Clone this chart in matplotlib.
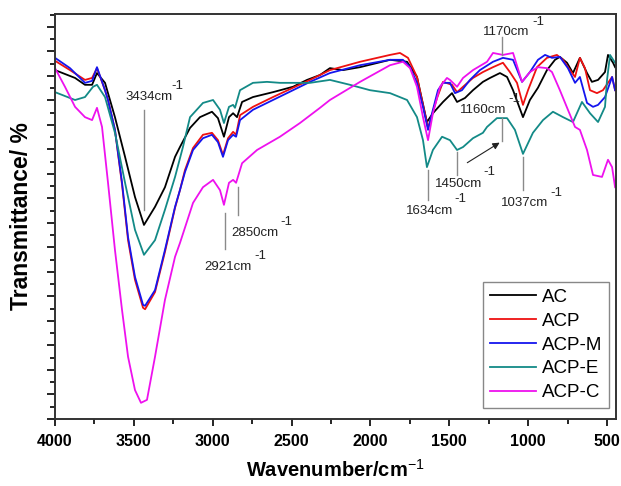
import numpy as np
import matplotlib
matplotlib.use("Agg")
import matplotlib.pyplot as plt
from matplotlib.ticker import MultipleLocator

plt.rcParams['font.family'] = ['Liberation Sans', 'DejaVu Sans']
plt.rcParams['mathtext.fontset'] = 'custom'
plt.rcParams['mathtext.rm'] = 'Liberation Sans'
plt.rcParams['mathtext.bf'] = 'Liberation Sans:bold'

# spectra (wavenumber in cm-1, transmittance in arbitrary %)
ac_wn = [4000, 3873, 3810, 3765, 3734, 3683, 3620, 3556, 3493, 3436, 3366, 3303, 3239, 3208, 3144,
         3081, 3005, 2967, 2929, 2897, 2871, 2846, 2814, 2745, 2618, 2491, 2402, 2320, 2257, 2174,
         2066, 1876, 1768, 1705, 1642, 1604, 1540, 1483, 1451, 1401, 1350, 1287, 1242, 1179, 1134,
         1096, 1033, 989, 938, 881, 830, 799, 754, 716, 672, 627, 596, 557, 513, 494, 462, 449]
ac_t = [71.2, 69.6, 68.2, 68.2, 70.6, 68.6, 61.6, 53.5, 45.3, 39.6, 43.3, 47.3, 53.5, 55.5, 59.4,
        61.6, 62.7, 61.4, 57.6, 61.6, 62.4, 61.6, 64.7, 65.7, 66.7, 67.8, 69.2, 70.2, 71.6, 71.2,
        71.8, 73.3, 72.9, 69.8, 60.6, 62.4, 64.7, 66.5, 64.7, 65.5, 67.1, 68.8, 69.6, 70.6, 69.8,
        67.1, 61.6, 65.1, 67.6, 71.2, 73.3, 73.9, 72.7, 70.6, 73.7, 70.6, 68.8, 69.2, 70.8, 74.3, 72.7, 71.8]

acp_wn = [4000, 3905, 3810, 3765, 3734, 3683, 3664, 3620, 3575, 3537, 3493, 3442, 3429, 3366, 3303,
          3239, 3208, 3176, 3125, 3062, 3005, 2967, 2935, 2903, 2871, 2852, 2827, 2745, 2618, 2491,
          2383, 2257, 2066, 1876, 1813, 1762, 1705, 1667, 1635, 1578, 1540, 1483, 1451, 1413, 1350,
          1287, 1223, 1160, 1116, 1071, 1033, 1001, 944, 881, 818, 779, 735, 703, 672, 640, 608,
          564, 526, 494, 468, 449]
acp_t = [73.1, 71.2, 69.2, 69.6, 71.6, 67.1, 65.1, 59.0, 47.8, 36.5, 28.4, 22.7, 22.4, 25.9, 34.1,
         43.1, 46.7, 50.8, 55.3, 58.0, 58.4, 56.9, 53.9, 57.3, 58.6, 58.0, 62.0, 63.7, 65.7, 67.6,
         69.2, 71.2, 72.9, 74.3, 74.7, 73.7, 69.8, 64.1, 59.4, 65.5, 68.8, 68.2, 66.7, 67.8, 69.6,
         70.8, 71.8, 72.7, 70.8, 68.6, 64.1, 67.1, 71.8, 73.7, 74.3, 73.3, 71.2, 69.8, 73.7, 71.6,
         67.1, 66.5, 67.1, 68.6, 69.8, 67.1]

acpm_wn = [4000, 3905, 3810, 3765, 3734, 3683, 3664, 3620, 3575, 3537, 3493, 3442, 3429, 3366, 3303,
           3239, 3208, 3176, 3125, 3062, 3005, 2967, 2935, 2903, 2871, 2852, 2827, 2745, 2618, 2491,
           2383, 2257, 2066, 1876, 1794, 1749, 1705, 1667, 1635, 1604, 1572, 1540, 1496, 1464, 1420,
           1369, 1306, 1223, 1160, 1096, 1039, 989, 938, 893, 849, 799, 748, 703, 672, 627, 589,
           557, 513, 468, 449]
acpm_t = [73.7, 71.6, 68.6, 69.0, 71.8, 67.1, 65.1, 59.0, 48.2, 37.1, 29.0, 23.3, 23.1, 26.3, 34.5,
          43.3, 46.7, 50.4, 54.9, 57.3, 58.0, 56.5, 53.5, 56.9, 58.0, 57.6, 61.0, 63.1, 65.1, 67.1,
          68.8, 70.6, 72.2, 73.3, 73.3, 71.8, 68.6, 63.7, 59.0, 63.1, 67.1, 68.6, 68.6, 66.5, 67.1,
          69.2, 71.2, 72.9, 73.7, 73.3, 68.8, 70.8, 73.3, 74.3, 73.7, 73.9, 71.6, 68.6, 69.8, 64.5,
          63.7, 64.1, 65.7, 69.8, 67.1]

acpe_wn = [4000, 3873, 3810, 3759, 3734, 3683, 3620, 3556, 3493, 3436, 3366, 3303, 3239, 3189, 3144,
           3062, 2998, 2954, 2929, 2897, 2871, 2859, 2827, 2745, 2656, 2574, 2466, 2383, 2257, 2130,
           2003, 1876, 1768, 1705, 1667, 1642, 1604, 1546, 1496, 1451, 1413, 1350, 1287, 1261, 1198,
           1134, 1084, 1033, 970, 906, 843, 779, 716, 659, 608, 557, 513, 500, 481, 449]
acpe_t = [66.7, 65.1, 65.7, 67.8, 68.2, 65.7, 58.4, 48.2, 38.6, 33.5, 36.5, 42.7, 49.4, 55.5, 61.6,
          64.5, 65.1, 63.1, 60.4, 63.7, 64.1, 63.5, 67.1, 68.6, 68.8, 68.6, 68.6, 68.6, 69.2, 68.2,
          67.1, 66.5, 65.1, 61.6, 56.9, 51.4, 54.9, 57.6, 56.9, 54.9, 55.5, 57.3, 58.4, 59.6, 61.4,
          61.4, 59.0, 54.1, 58.4, 61.0, 62.7, 61.6, 60.6, 64.7, 62.4, 60.6, 63.7, 69.2, 74.3, 72.7]

acpc_wn = [4000, 3937, 3873, 3810, 3765, 3734, 3702, 3664, 3620, 3575, 3537, 3493, 3455, 3417, 3366,
           3303, 3239, 3208, 3125, 3062, 2998, 2954, 2929, 2897, 2871, 2852, 2814, 2719, 2574, 2447,
           2320, 2257, 2066, 1876, 1794, 1749, 1705, 1667, 1635, 1604, 1559, 1515, 1496, 1451, 1413,
           1350, 1261, 1223, 1160, 1096, 1039, 989, 938, 881, 849, 799, 748, 703, 672, 627, 589,
           532, 494, 468, 449]
acpc_t = [71.6, 67.8, 63.7, 61.6, 61.0, 63.5, 59.6, 48.2, 34.5, 22.2, 12.7, 5.9, 3.3, 3.9, 12.7,
          24.3, 33.1, 35.9, 44.1, 47.3, 48.8, 46.7, 43.7, 48.2, 48.8, 48.2, 52.2, 54.9, 57.6, 60.4,
          63.5, 65.1, 68.8, 72.2, 72.9, 71.6, 67.8, 61.6, 56.9, 62.4, 67.8, 69.6, 69.2, 67.8, 69.6,
          71.2, 72.9, 74.7, 74.3, 74.7, 68.8, 70.8, 71.8, 71.6, 70.8, 67.1, 63.1, 59.6, 59.0, 54.9,
          49.8, 49.4, 52.9, 51.4, 47.3]

names = ['AC', 'ACP', 'ACP-M', 'ACP-E', 'ACP-C']
colors = ['#000000', '#ee1111', '#1515ee', '#138a87', '#ee11ee']
series = [(ac_wn, ac_t), (acp_wn, acp_t), (acpm_wn, acpm_t), (acpe_wn, acpe_t), (acpc_wn, acpc_t)]

xticks = [4000, 3500, 3000, 2500, 2000, 1500, 1000, 500]

# peak marks: (label, wavenumber, line top, line bottom, text x, text y, sup x, sup y)
peaks = [
    ('3434cm', 3434, 63.1, 42.7, 3556, 65.7, 3262, 67.9),
    ('2921cm', 2921, 42.0, 34.7, 3055, 31.0, 2737, 33.3),
    ('2850cm', 2840, 47.3, 41.6, 2884, 38.0, 2570, 40.2),
    ('1634cm', 1634, 50.8, 44.7, 1775, 42.4, 1466, 44.9),
    ('1450cm', 1450, 54.5, 49.8, 1591, 48.0, 1282, 50.4),
    ('1160cm', 1166, 61.4, 56.7, 1432, 63.1, 1124, 65.3),
    ('1170cm', 1166, 78.0, 74.3, 1287, 79.0, 973, 81.0),
    ('1037cm', 1035, 53.5, 46.7, 1172, 44.1, 858, 46.1),
]

fig = plt.figure(figsize=(6.21, 4.86), dpi=100)
ax = fig.add_axes([0.0886, 0.1379, 0.9034, 0.8333])

for (wn, t), name, c in zip(series, names, colors):
    ax.plot(wn, t, color=c, lw=1.3, label=name)

for lab, wn, y0, y1, tx, ty, sx, sy in peaks:
    ax.plot([wn, wn], [y0, y1], color='#8a8a8a', lw=1.0)
    ax.text(tx, ty, lab, fontsize=9.5, color='#222222', ha='left', va='center')
    ax.text(sx, sy, '-1', fontsize=9.5, color='#222222', ha='left', va='center')

ax.annotate('', xy=(1166, 56.7), xytext=(1401, 52.0),
            arrowprops=dict(arrowstyle='-|>', color='#222222', lw=0.8, mutation_scale=10))

ax.set_xlim(4000, 443)
ax.set_ylim(0, 82.65)
ax.set_xticks(xticks)
ax.set_xticklabels([str(v) for v in xticks], fontsize=11.5, fontweight='bold')
ax.xaxis.set_minor_locator(MultipleLocator(250))
ax.yaxis.set_major_locator(MultipleLocator(5))
ax.yaxis.set_minor_locator(MultipleLocator(2.5))
ax.tick_params(axis='y', which='both', labelleft=False)
ax.tick_params(which='major', direction='out', length=6, width=1.2)
ax.tick_params(which='minor', direction='out', length=3.5, width=1.2)
ax.tick_params(axis='x', which='major', length=5, pad=6)
for s in ax.spines.values():
    s.set_linewidth(1.4)
    s.set_color('#333333')

ax.set_xlabel(r'Wavenumber/cm$^{-1}$', fontsize=14.5, fontweight='bold', labelpad=7)
ax.set_ylabel('Transmittance/ %', fontsize=16.5, fontweight='bold', labelpad=10)

leg = ax.legend(loc='upper right', bbox_to_anchor=(0.9875, 0.338), borderaxespad=0,
                fontsize=13.5, handlelength=2.5, handletextpad=0.3, labelspacing=0.36,
                borderpad=0.35, fancybox=False, edgecolor='#888888', framealpha=1)
leg.get_frame().set_linewidth(1.0)

fig.savefig('out.png', dpi=100)
